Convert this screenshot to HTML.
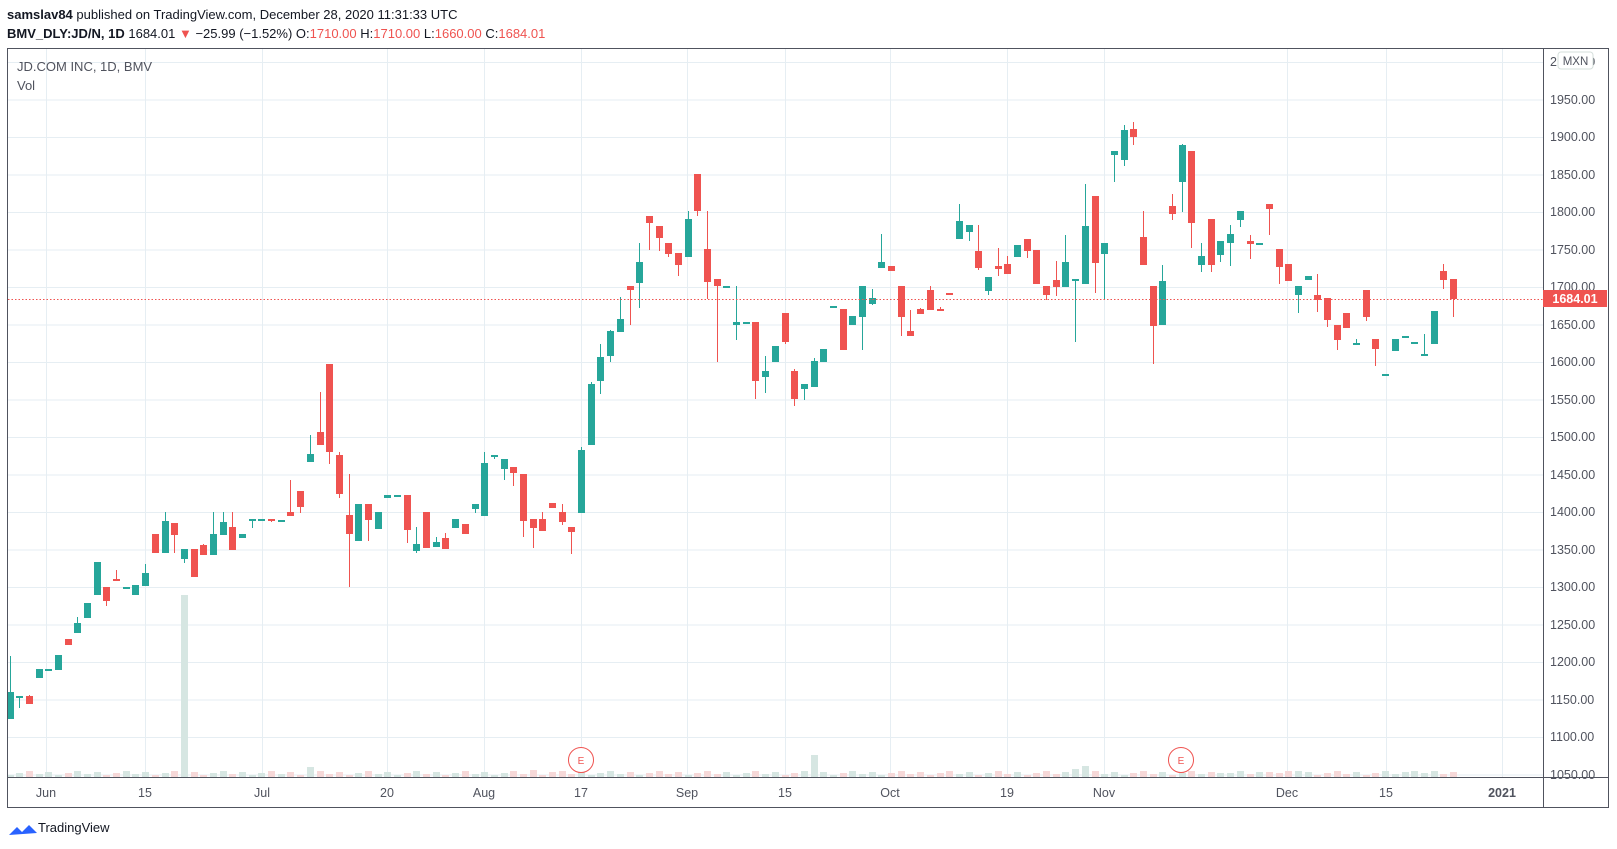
<!DOCTYPE html>
<html><head><meta charset="utf-8">
<style>
body{margin:0;background:#fff;width:1617px;height:849px;overflow:hidden;font-family:"Liberation Sans",Arial,sans-serif;}
svg{position:absolute;left:0;top:0}
</style></head><body>
<svg id="s" width="1617" height="849" xmlns="http://www.w3.org/2000/svg" font-family="Liberation Sans, Arial, sans-serif">
<g id="grid" stroke="#e6eef3" stroke-width="1"></g>
<g id="vol"></g>
<g id="cand"></g>
<line x1="8" y1="299.5" x2="1543" y2="299.5" stroke="#ef5350" stroke-width="1" stroke-dasharray="1.5,2"/>
<circle cx="581" cy="760" r="12.5" fill="#fff" stroke="#ef5350" stroke-width="1"/>
<text x="581" y="764" font-size="10" fill="#ef5350" text-anchor="middle">E</text>
<circle cx="1181" cy="760" r="12.5" fill="#fff" stroke="#ef5350" stroke-width="1"/>
<text x="1181" y="764" font-size="10" fill="#ef5350" text-anchor="middle">E</text>
<rect x="7.5" y="48.5" width="1601" height="759" fill="none" stroke="#50535e" stroke-width="1"/>
<line x1="1543.5" y1="48" x2="1543.5" y2="808" stroke="#50535e"/>
<line x1="8" y1="777.5" x2="1609" y2="777.5" stroke="#50535e"/>
<g id="yl" font-size="12.5" fill="#50535e"></g>
<g font-size="12.5" fill="#50535e" text-anchor="middle">
<text x="46" y="797">Jun</text><text x="145" y="797">15</text><text x="262" y="797">Jul</text><text x="387" y="797">20</text><text x="484" y="797">Aug</text><text x="581" y="797">17</text><text x="687" y="797">Sep</text><text x="785" y="797">15</text><text x="890" y="797">Oct</text><text x="1007" y="797">19</text><text x="1104" y="797">Nov</text><text x="1287" y="797">Dec</text><text x="1386" y="797">15</text><text x="1502" y="797" font-weight="bold">2021</text>
</g>
<g font-size="12.5" fill="#50535e">
<text x="1550" y="104">1950.00</text><text x="1550" y="141">1900.00</text><text x="1550" y="179">1850.00</text><text x="1550" y="216">1800.00</text><text x="1550" y="254">1750.00</text><text x="1550" y="291">1700.00</text><text x="1550" y="329">1650.00</text><text x="1550" y="366">1600.00</text><text x="1550" y="404">1550.00</text><text x="1550" y="441">1500.00</text><text x="1550" y="479">1450.00</text><text x="1550" y="516">1400.00</text><text x="1550" y="554">1350.00</text><text x="1550" y="591">1300.00</text><text x="1550" y="629">1250.00</text><text x="1550" y="666">1200.00</text><text x="1550" y="704">1150.00</text><text x="1550" y="741">1100.00</text><text x="1550" y="779">1050.00</text>
<text x="1550" y="66">2000.00</text>
</g>
<rect x="1558" y="52" width="35" height="17" rx="3" fill="#fff" stroke="#d5dfdb"/>
<text x="1575.5" y="65" font-size="11.5" fill="#50535e" text-anchor="middle">MXN</text>
<rect x="1543" y="290" width="64" height="17" fill="#ef5350"/>
<text x="1575" y="303" font-size="12.5" font-weight="bold" fill="#fff" text-anchor="middle">1684.01</text>
<text x="17" y="71" font-size="13" fill="#50535e">JD.COM INC, 1D, BMV</text>
<text x="17" y="90" font-size="13" fill="#50535e">Vol</text>
<text x="7" y="19" font-size="13" fill="#131722"><tspan font-weight="bold">samslav84</tspan> published on TradingView.com, December 28, 2020 11:31:33 UTC</text>
<text x="7" y="38" font-size="13" fill="#131722"><tspan font-weight="bold">BMV_DLY:JD/N, 1D</tspan> 1684.01 <tspan fill="#ef5350">▼</tspan> −25.99 (−1.52%) O:<tspan fill="#ef5350">1710.00</tspan> H:<tspan fill="#ef5350">1710.00</tspan> L:<tspan fill="#ef5350">1660.00</tspan> C:<tspan fill="#ef5350">1684.01</tspan></text>
<path d="M9 835 l8 -8 l5 5 l7 -7 l8 8 z" fill="#2962ff"/>
<text x="38" y="832" font-size="13" fill="#131722">TradingView</text>
</svg>
<script>
var NS="http://www.w3.org/2000/svg";
function el(p,t,a){var e=document.createElementNS(NS,t);for(var k in a)e.setAttribute(k,a[k]);p.appendChild(e);return e;}
var g=document.getElementById('grid');
for(var i=0;i<=19;i++){var y=62.5+i*37.5;if(y<777)el(g,'line',{x1:8,y1:y,x2:1543,y2:y});}
[46,145,262,387,484,581,687,785,890,1007,1104,1287,1386,1502].forEach(function(x){el(g,'line',{x1:x+0.5,y1:48,x2:x+0.5,y2:777});});
// [xleft,color,bodyTop,bodyBot,high,low]
var C=[
[7,'g',692,719,656,719],[16,'g',696,697,696,708],[26,'r',696,704,695,704],[36,'g',669,678,669,678],[45,'g',669,670,669,670],
[55,'g',655,670,655,670],[65,'r',639,645,639,645],[74,'g',623,633,617,633],[84,'g',603,618,603,618],[94,'g',562,595,562,595],
[103,'r',587,601,587,606],[113,'r',579,580,570,580],[123,'g',587,588,587,588],[132,'g',585,595,585,595],[142,'g',573,586,564,586],
[152,'r',534,553,534,553],[162,'g',521,553,512,553],[171,'r',523,535,523,553],[181,'g',549,559,549,563],[191,'r',549,577,549,577],
[200,'r',545,555,544,555],[210,'g',534,555,512,555],[220,'g',522,535,512,535],[229,'r',527,550,512,550],[239,'g',534,538,534,538],
[249,'g',519,520,519,528],[258,'g',519,520,519,520],[268,'r',519,521,519,522],[278,'g',520,521,520,521],[287,'r',512,516,480,516],
[297,'r',491,507,491,513],[307,'g',454,462,435,462],[317,'r',432,445,392,445],[326,'r',364,452,364,464],[336,'r',455,494,452,498],
[346,'r',515,534,474,587],[355,'g',504,541,504,541],[365,'r',504,520,504,541],[375,'g',512,529,512,529],[384,'g',495,498,495,498],
[394,'g',495,496,495,496],[404,'r',495,530,495,543],[413,'g',544,551,527,553],[423,'r',512,548,512,548],[433,'g',542,547,537,547],
[442,'r',538,549,533,549],[452,'g',519,528,519,528],[462,'r',524,534,524,534],[472,'g',504,509,504,513],[481,'g',463,516,452,516],
[491,'g',455,457,455,459],[501,'g',459,469,459,480],[510,'r',467,473,467,486],[520,'r',474,521,474,537],[530,'r',519,528,519,548],
[539,'r',519,531,512,531],[549,'r',503,508,503,508],[559,'r',512,522,504,525],[568,'r',527,532,527,554],[578,'g',450,513,447,513],
[588,'g',384,445,382,445],[597,'g',357,381,344,394],[607,'g',331,356,330,362],[617,'g',319,332,297,332],[627,'r',286,290,286,325],
[636,'g',262,283,243,308],[646,'r',216,223,216,250],[656,'r',226,238,226,251],[665,'r',243,254,243,257],[675,'r',253,265,253,276],
[685,'g',219,257,211,257],[694,'r',174,211,174,216],[704,'r',249,282,211,299],[714,'r',279,286,279,362],[723,'g',286,287,286,287],
[733,'g',322,325,286,340],[743,'g',322,323,322,323],[752,'r',322,381,322,399],[762,'g',371,377,356,393],[772,'g',346,362,346,362],
[782,'r',313,342,313,344],[791,'r',371,399,369,406],[801,'g',384,389,384,400],[811,'g',361,387,358,387],[820,'g',349,362,349,362],
[830,'g',306,307,306,307],[840,'r',309,350,309,350],[849,'g',316,325,316,325],[859,'g',286,317,286,350],[869,'g',298,304,289,305],
[878,'g',262,268,234,268],[888,'r',266,271,266,271],[898,'r',286,317,286,336],[907,'r',331,336,310,336],[917,'r',309,314,308,314],
[927,'r',290,310,286,310],[937,'r',309,310,307,310],[946,'r',293,294,293,294],[956,'g',221,239,204,239],[966,'g',225,232,225,241],
[975,'r',251,268,225,270],[985,'g',277,291,277,295],[995,'r',266,269,248,276],[1004,'r',264,274,256,274],[1014,'g',245,257,245,257],
[1024,'r',239,251,239,258],[1033,'r',250,284,250,284],[1043,'r',286,295,286,300],[1053,'r',280,287,261,296],[1062,'g',262,287,235,287],
[1072,'g',279,281,279,342],[1082,'g',226,284,184,284],[1092,'r',196,263,196,293],[1101,'g',243,254,243,299],[1111,'g',151,155,151,182],
[1121,'g',130,160,125,166],[1130,'r',129,137,122,145],[1140,'r',237,265,211,265],[1150,'r',286,326,286,364],[1159,'g',281,325,265,325],
[1169,'r',206,214,194,220],[1179,'g',145,182,144,212],[1188,'r',151,223,151,248],[1198,'g',256,265,243,272],[1208,'r',219,265,219,272],
[1217,'g',241,255,241,262],[1227,'g',234,243,225,266],[1237,'g',211,220,211,227],[1247,'r',241,244,235,259],[1256,'g',243,244,243,244],
[1266,'r',204,209,204,235],[1276,'r',249,267,249,284],[1285,'r',264,281,264,281],[1295,'g',286,295,286,313],[1305,'g',276,280,276,280],
[1314,'r',295,300,274,312],[1324,'r',298,320,298,327],[1334,'r',325,340,325,350],[1343,'r',313,328,313,328],[1353,'g',343,344,339,344],
[1363,'r',290,317,290,321],[1372,'r',339,349,339,366],[1382,'g',374,376,374,376],[1392,'g',339,351,339,351],[1402,'g',336,337,336,337],
[1411,'g',342,344,342,344],[1421,'g',354,355,334,355],[1431,'g',311,344,311,344],[1440,'r',271,280,264,289],[1450,'r',279,299,279,317]];
var cg=document.getElementById('cand'),vg=document.getElementById('vol');
var vh={18:182,31:10,83:22,111:11,54:7,52:6,56:5,110:8,133:6,145:6,125:4,130:5};
C.forEach(function(c,i){
 var col=c[1]=='g'?'#26a69a':'#ef5350';
 el(cg,'rect',{x:c[0]+3,y:c[4],width:1,height:Math.max(1,c[5]-c[4]),fill:col});
 el(cg,'rect',{x:c[0],y:c[2],width:7,height:Math.max(2,c[3]-c[2]),fill:col});
 var h=vh[i]||(2+((i*7)%5));
 el(vg,'rect',{x:c[0],y:777-h,width:7,height:h,fill:c[1]=='g'?'#d6e6e2':'#f6d8d8'});
});
</script>
</body></html>
